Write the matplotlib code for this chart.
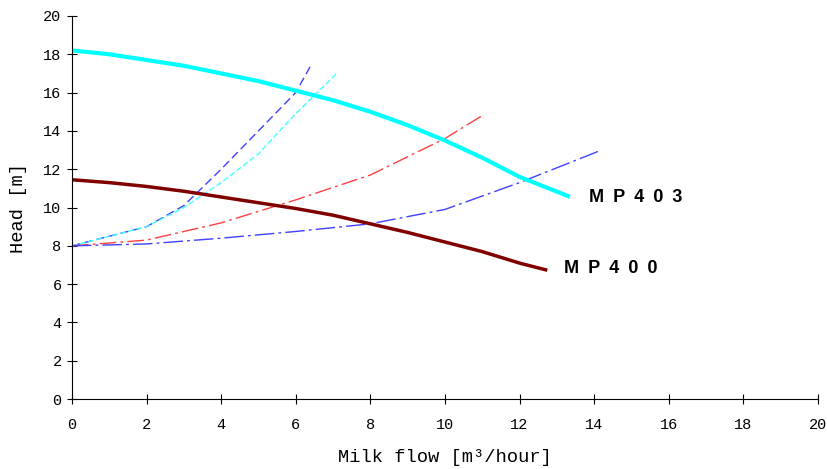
import matplotlib.pyplot as plt
import numpy as np

# pump curves
flow_403 = [0, 1, 2, 3, 4, 5, 6, 7, 8, 9, 10, 11, 12, 13.3]
head_403 = [18.2, 18.0, 17.7, 17.4, 17.0, 16.6, 16.1, 15.6, 15.0, 14.3, 13.5, 12.6, 11.6, 10.6]
flow_400 = [0, 1, 2, 3, 4, 5, 6, 7, 8, 9, 10, 11, 12, 12.7]
head_400 = [11.45, 11.3, 11.1, 10.85, 10.55, 10.25, 9.95, 9.6, 9.15, 8.7, 8.2, 7.7, 7.1, 6.75]

# system curves
flow_s1 = [0, 1, 2, 3, 4, 5, 6, 6.4]
head_s1 = [8.0, 8.5, 9.0, 10.1, 12.0, 14.0, 16.0, 17.4]
flow_s2 = [0, 1, 2, 3, 4, 5, 6, 7.1]
head_s2 = [8.0, 8.5, 9.0, 10.0, 11.3, 12.8, 14.9, 17.0]
flow_s3 = [0, 2, 4, 6, 8, 10, 11]
head_s3 = [8.0, 8.3, 9.2, 10.4, 11.7, 13.6, 14.8]
flow_s4 = [0, 2, 4, 6, 8, 10, 12, 14.2]
head_s4 = [8.0, 8.1, 8.4, 8.75, 9.15, 9.9, 11.3, 13.0]

plt.rcParams['font.family'] = ['Liberation Mono', 'DejaVu Sans Mono']

fig = plt.figure(figsize=(8.27, 4.69), dpi=100)
ax = fig.add_axes([0.087, 0.149, 0.902, 0.817])

ax.plot(flow_s1, head_s1, color='#4040ff', lw=1, dashes=(6, 3))
ax.plot(flow_s2, head_s2, color='#40ffff', lw=1, dashes=(4, 2))
ax.plot(flow_s3, head_s3, color='#ff4040', lw=1, dashes=(12, 3, 2, 3))
ax.plot(flow_s4, head_s4, color='#4040ff', lw=1, dashes=(14, 3, 2, 3))
ax.plot(flow_403, head_403, color='#00ffff', lw=3)
ax.plot(flow_400, head_400, color='#800000', lw=2.5)

sp = '\u2002'
ax.text(13.85, 10.3, sp.join('MP403'), family=['Liberation Sans', 'DejaVu Sans'],
        weight='bold', fontsize=13)
ax.text(13.2, 6.6, sp.join('MP400'), family=['Liberation Sans', 'DejaVu Sans'],
        weight='bold', fontsize=13)

ax.set_xlim(0, 20)
ax.set_ylim(0, 20)
ax.set_xticks(np.arange(0, 21, 2))
ax.set_yticks(np.arange(0, 21, 2))
ax.spines['top'].set_visible(False)
ax.spines['right'].set_visible(False)
ax.tick_params(direction='inout', length=7, labelsize=11)
ax.tick_params(axis='x', pad=10)
ax.tick_params(axis='y', pad=4)
ax.set_xlabel('Milk flow [m³/hour]', fontsize=13.5, labelpad=12)
ax.set_ylabel('Head [m]', fontsize=13.5, labelpad=12)

plt.savefig('out.png')
